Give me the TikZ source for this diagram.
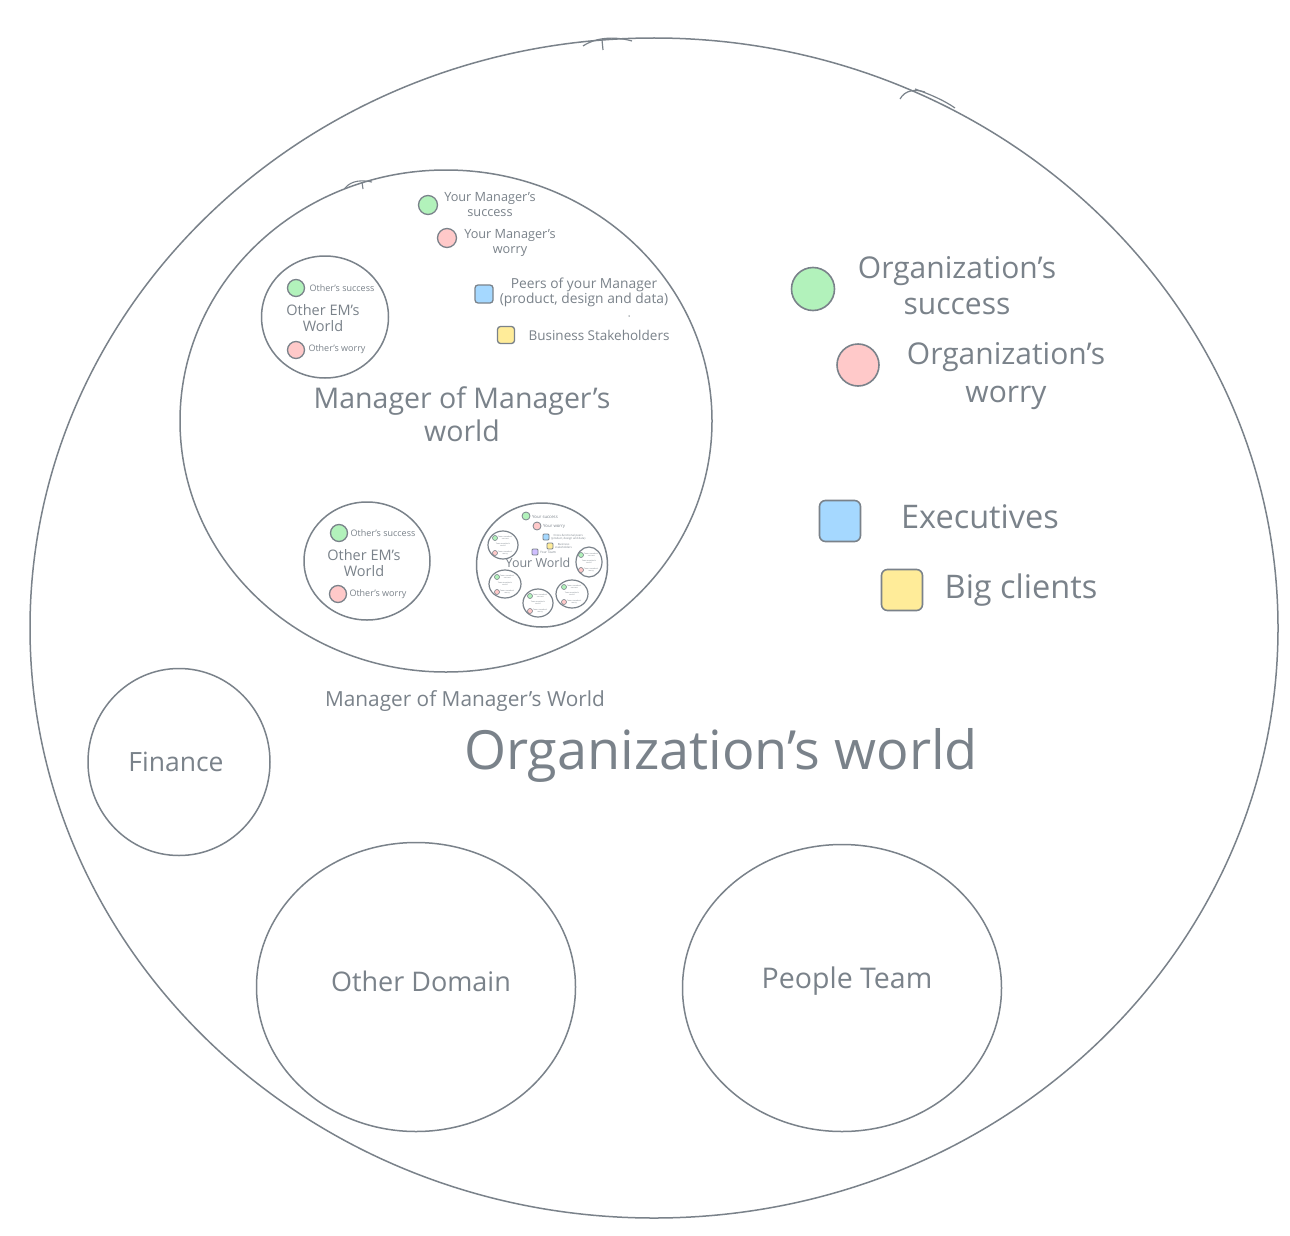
\documentclass[tikz,border=0pt]{standalone}
\usepackage{fontspec}
\setmainfont{Open Sans}
\usetikzlibrary{shapes.geometric}
\definecolor{linec}{RGB}{122,130,138}
\definecolor{txtc}{RGB}{122,130,138}
\definecolor{gfill}{HTML}{B2F2BB}
\definecolor{pfill}{HTML}{FFC9C9}
\definecolor{bfill}{HTML}{A5D8FF}
\definecolor{yfill}{HTML}{FFEC99}
\definecolor{vfill}{HTML}{D0BFFF}
\newcommand{\fs}[2]{\fontsize{#1}{#2}\selectfont}
\tikzset{
  ln/.style={draw=linec, line width=1.5pt},
  circ/.style={ln, ellipse, inner sep=0pt},
  txt/.style={text=txtc, align=center, inner sep=0pt},
  gdot/.style={circle, draw=linec, line width=1.3pt, fill=gfill, inner sep=0pt},
  pdot/.style={circle, draw=linec, line width=1.3pt, fill=pfill, inner sep=0pt},
  sqbox/.style={rectangle, rounded corners=3pt, draw=linec, line width=1.3pt, inner sep=0pt},
}
\begin{document}
\begin{tikzpicture}[x=1pt,y=-1pt]
\path[use as bounding box, fill=white] (0,0) rectangle (1290,1236);

% big organization circle
\node[circ, minimum width=1248pt, minimum height=1180pt] (org) at (654,628) {};
\draw[ln, line width=1.2pt] (583,46) .. controls (598,36) and (618,37) .. (632,41);
\draw[ln, line width=1.2pt] (602,40) -- (603,50);
\draw[ln, line width=1.2pt] (900,99) .. controls (905,90) and (915,89) .. (925,92);
\draw[ln, line width=1.2pt] (915,89) .. controls (932,95) and (945,101) .. (955,108);

% Manager of Manager's world
\node[circ, minimum width=532pt, minimum height=502pt] (mom) at (446,421) {};
\draw[ln, line width=1.1pt] (345,188) .. controls (352,180) and (362,180) .. (372,182);
\draw[ln, line width=1.1pt] (362,182) -- (363,189);
\node[txt, font=\fs{28.5}{33}] (momt) at (462,414) {Manager of Manager's\\world};

\node[gdot, minimum size=19pt] (mgs) at (428,205) {};
\node[txt, font=\fs{12.7}{15}] (mgst) at (490,205) {Your Manager's\\success};
\node[pdot, minimum size=19pt] (mgw) at (447,238) {};
\node[txt, font=\fs{12.7}{15}] (mgwt) at (510,243) {Your Manager's\\worry};
\node[sqbox, fill=bfill, minimum size=18pt] (peer) at (484,294) {};
\node[txt, font=\fs{13.8}{15}] (peert) at (584,292) {Peers of your Manager\\(product, design and data)};
\node[circle, fill=linec, inner sep=0pt, minimum size=1.5pt] (dotp) at (629,316) {};
\node[sqbox, fill=yfill, minimum size=17pt] (bus) at (506,335) {};
\node[txt, font=\fs{13.5}{15}] (bust) at (599,335) {Business Stakeholders};

% Other EM's world (top)
\node[circ, minimum width=127pt, minimum height=122pt] (em1) at (325,317) {};
\node[gdot, minimum size=17pt] (em1g) at (296,288) {};
\node[txt, font=\fs{9}{10}] (em1gt) at (342,288) {Other's success};
\node[txt, font=\fs{14.5}{16}] (em1t) at (323,318) {Other EM's\\World};
\node[pdot, minimum size=17pt] (em1p) at (296,350) {};
\node[txt, font=\fs{9}{10}] (em1pt) at (337,349) {Other's worry};

% Other EM's world (bottom)
\node[circ, minimum width=126pt, minimum height=118pt] (em2) at (367,561) {};
\node[gdot, minimum size=17pt] (em2g) at (339,533) {};
\node[txt, font=\fs{9}{10}] (em2gt) at (383,533) {Other's success};
\node[txt, font=\fs{14.5}{16}] (em2t) at (364,563) {Other EM's\\World};
\node[pdot, minimum size=17pt] (em2p) at (338,594) {};
\node[txt, font=\fs{9}{10}] (em2pt) at (378,594) {Other's worry};

% Your world
\node[circ, minimum width=131pt, minimum height=124pt] (yw) at (542,565) {};
\node[gdot, minimum size=8pt, line width=0.8pt] (ywg) at (526,516) {};
\node[txt, font=\fs{4.3}{5}, anchor=west] (ywgt) at (532,517) {Your success};
\node[pdot, minimum size=8pt, line width=0.8pt] (ywp) at (537,526) {};
\node[txt, font=\fs{4.3}{5}, anchor=west] (ywpt) at (543,526) {Your worry};
\node[sqbox, rounded corners=1pt, line width=0.8pt, fill=bfill, minimum size=6pt] (ywb) at (546,537) {};
\node[txt, font=\fs{2.8}{3.2}, anchor=west] (ywbt) at (551,537) {Cross-functional peers\\(product, design and data)};
\node[sqbox, rounded corners=1pt, line width=0.8pt, fill=yfill, minimum size=6pt] (ywy) at (550,546) {};
\node[txt, font=\fs{2.8}{3.2}, anchor=west] (ywyt) at (555,546) {Business\\stakeholders};
\node[sqbox, rounded corners=1pt, line width=0.8pt, fill=vfill, minimum size=6pt] (ywv) at (535,552) {};
\node[txt, font=\fs{3.2}{4}, anchor=west] (ywvt) at (540,552) {Your Team};
\node[txt, font=\fs{12.5}{14}] (ywt) at (538,563) {Your World};
\foreach \i/\cx/\cy/\rx/\ry in {1/503/545/15/14, 2/589/562/13/15, 3/505/584/16/14, 4/572/594/16/14, 5/538/603/15/14}{
  \node[circ, line width=1.2pt, minimum width=2*\rx pt, minimum height=2*\ry pt] (dr\i) at (\cx,\cy) {};
  \node[gdot, line width=0.6pt, minimum size=5pt] (dr\i g) at (\cx-8,\cy-7) {};
  \node[txt, font=\fs{1.9}{2.3}, anchor=west] (dr\i gt) at (\cx-5,\cy-7) {Team member's\\success};
  \node[txt, font=\fs{1.9}{2.3}] (dr\i t) at (\cx,\cy) {Team member's\\world};
  \node[pdot, line width=0.6pt, minimum size=5pt] (dr\i p) at (\cx-8,\cy+8) {};
  \node[txt, font=\fs{1.9}{2.3}, anchor=west] (dr\i pt) at (\cx-5,\cy+8) {Team member's\\worry};
}

\node[txt, font=\fs{20.8}{24}] (momw) at (465,701) {Manager of Manager's World};

% legend
\node[gdot, minimum size=43pt, line width=1.6pt] (ogs) at (813,289) {};
\node[txt, font=\fs{30}{36}] (ogst) at (957,286) {Organization's\\success};
\node[pdot, minimum size=42pt, line width=1.6pt] (ogw) at (858,365) {};
\node[txt, font=\fs{30}{38}] (ogwt) at (1006,376) {Organization's\\worry};
\node[sqbox, rounded corners=6pt, line width=1.6pt, fill=bfill, minimum size=41pt] (exe) at (840,521) {};
\node[txt, font=\fs{32.5}{36}] (exet) at (980,517) {Executives};
\node[sqbox, rounded corners=6pt, line width=1.6pt, fill=yfill, minimum size=41pt] (big) at (902,590) {};
\node[txt, font=\fs{32.5}{36}] (bigt) at (1021,590) {Big clients};

\node[txt, font=\fs{54}{58}] (orgt) at (721,755) {Organization's world};

% other circles
\node[circ, minimum width=182pt, minimum height=187pt] (fin) at (179,762) {};
\node[txt, font=\fs{26.5}{30}] (fint) at (176,762) {Finance};
\node[circ, minimum width=319pt, minimum height=289pt] (odom) at (416,987) {};
\node[txt, font=\fs{27}{30}] (odomt) at (421,981) {Other Domain};
\node[circ, minimum width=319pt, minimum height=287pt] (ppl) at (842,988) {};
\node[txt, font=\fs{28.5}{32}] (pplt) at (847,981) {People Team};
\end{tikzpicture}
\end{document}
